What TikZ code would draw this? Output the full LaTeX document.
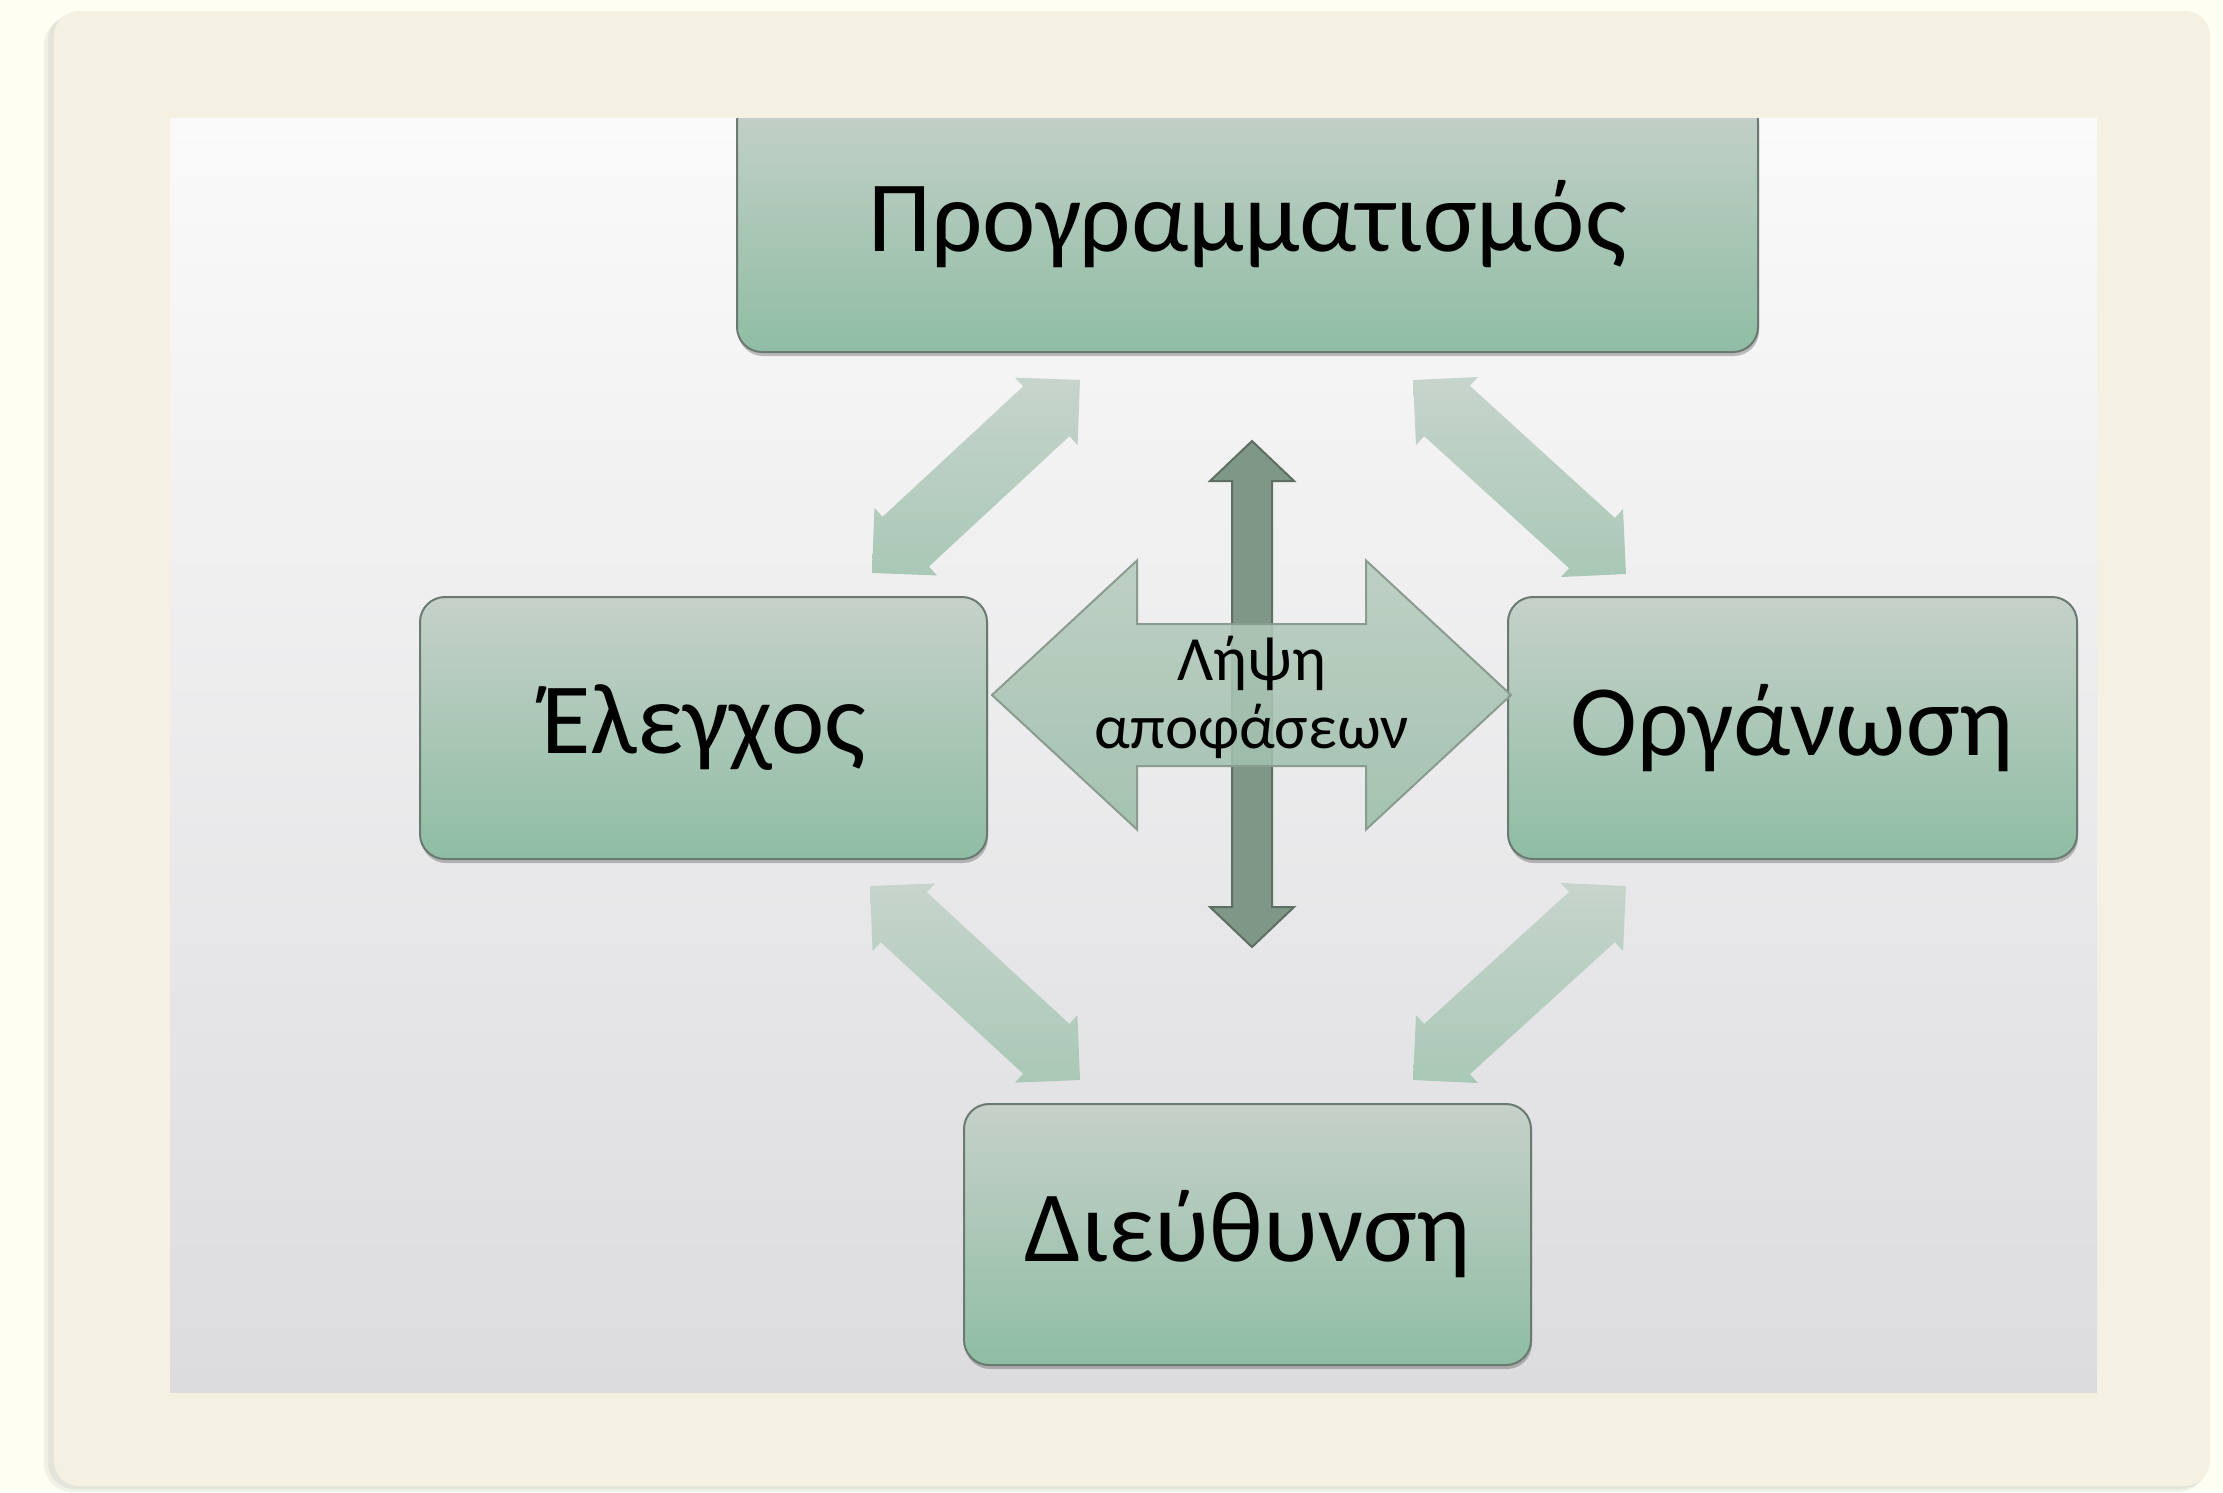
\documentclass[tikz,border=0pt]{standalone}
\usepackage{fontspec}
\setmainfont{Carlito}
\usetikzlibrary{calc,shadows}
\definecolor{bgc}{HTML}{FEFEF3}
\definecolor{framec}{HTML}{F4F1E3}
\definecolor{paneltop}{HTML}{FAFAFA}
\definecolor{panelbot}{HTML}{DCDCDF}
\definecolor{boxtop}{HTML}{C6D1C9}
\definecolor{boxbot}{HTML}{8FBDA4}
\definecolor{boxline}{HTML}{6B7A70}
\definecolor{diagtop}{HTML}{C7D4CC}
\definecolor{diagbot}{HTML}{A9C8B6}
\definecolor{hartop}{HTML}{B8CCBE}
\definecolor{harbot}{HTML}{9BBEAA}
\definecolor{harline}{HTML}{8A9B90}
\definecolor{varfill}{HTML}{7F9786}
\definecolor{varline}{HTML}{5E6E63}
\newcommand{\blockarrow}[6]{%
  \coordinate (ba1) at ($(#1)!#5!(#2)$);
  \coordinate (ba2) at ($(#2)!#5!(#1)$);
  \path[#6] (#1) -- ($(ba1)!#4!90:(#2)$) -- ($(ba1)!#3!90:(#2)$)
    -- ($(ba2)!#3!-90:(#1)$) -- ($(ba2)!#4!-90:(#1)$) -- (#2)
    -- ($(ba2)!#4!90:(#1)$) -- ($(ba2)!#3!90:(#1)$)
    -- ($(ba1)!#3!-90:(#2)$) -- ($(ba1)!#4!-90:(#2)$) -- cycle;
}
\tikzset{
  box/.style={rectangle, rounded corners=25pt, draw=boxline, line width=2pt,
    top color=boxtop, bottom color=boxbot,
    drop shadow={shadow xshift=1pt, shadow yshift=-4pt, opacity=0.35, fill=black!70},
    font=\fontsize{101}{106}\selectfont, text=black, inner sep=0pt},
  diagarrow/.style={top color=diagtop, bottom color=diagbot},
  hararrow/.style={top color=hartop, bottom color=harbot, draw=harline, line width=2pt, fill opacity=0.88},
  vararrow/.style={fill=varfill, draw=varline, line width=2pt},
}
\begin{document}
\begin{tikzpicture}[x=1pt,y=-1pt]
\useasboundingbox (0,0) rectangle (2223,1492);
\fill[bgc] (0,0) rectangle (2223,1492);
% frame
\fill[black, opacity=0.05] (44,17) [rounded corners=28pt] rectangle (2206,1492);
\fill[black, opacity=0.05] (48,14) [rounded corners=26pt] rectangle (2208,1489);
\fill[framec, rounded corners=25pt] (54,11) rectangle (2210,1486);
% panel
\shade[top color=paneltop, bottom color=panelbot] (170,118) rectangle (2097,1392);
% top box clipped by panel
\begin{scope}
  \clip (170,118) rectangle (2097,1392);
  \node[box, minimum width=1021pt, minimum height=256pt] (plan) at (1247.5,224) {Προγραμματισμός};
\end{scope}
\node[box, minimum width=567pt, minimum height=262pt] (elen) at (703.5,728) {Έλεγχος};
\node[box, minimum width=569pt, minimum height=262pt] (org) at (1792.5,728) {Οργάνωση};
\node[box, minimum width=567pt, minimum height=261pt] (dir) at (1247.5,1234.5) {Διεύθυνση};
% diagonal arrows
\coordinate (tlA) at (1080,380); \coordinate (tlB) at (872,573);
\coordinate (trA) at (1413,380); \coordinate (trB) at (1626,574);
\coordinate (blA) at (870,886);  \coordinate (blB) at (1080,1080);
\coordinate (brA) at (1626,886); \coordinate (brB) at (1413,1080);
\blockarrow{tlA}{tlB}{34pt}{46pt}{46pt}{diagarrow}
\blockarrow{trA}{trB}{34pt}{46pt}{46pt}{diagarrow}
\blockarrow{blA}{blB}{34pt}{46pt}{46pt}{diagarrow}
\blockarrow{brA}{brB}{34pt}{46pt}{46pt}{diagarrow}
% vertical arrow
\coordinate (vA) at (1252,441); \coordinate (vB) at (1252,947);
\blockarrow{vA}{vB}{20pt}{42pt}{40pt}{vararrow}
% horizontal arrow
\coordinate (hA) at (992,695); \coordinate (hB) at (1511,695);
\blockarrow{hA}{hB}{71pt}{134.5pt}{145pt}{hararrow}
\node[font=\fontsize{63}{68}\selectfont, align=center, inner sep=0pt] (ld) at (1252,697) {Λήψη\\αποφάσεων};
\end{tikzpicture}
\end{document}
